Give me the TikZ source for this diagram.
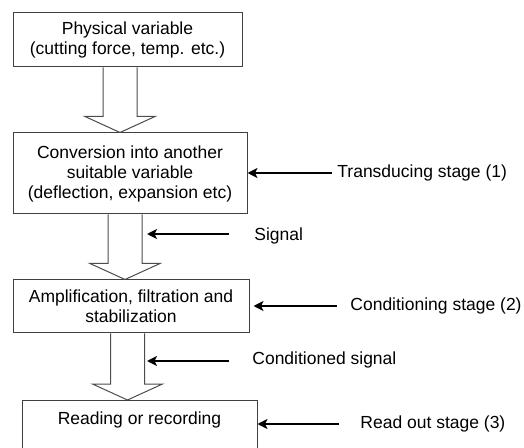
\documentclass[tikz,border=0pt]{standalone}
\usepackage{fontspec}
\setmainfont{Liberation Sans}
\usepackage{tikz}
\usetikzlibrary{arrows.meta,positioning,calc}

% open block arrow between two stages
\newcommand{\hollowarrow}[3]{% from, to, x offset
  \draw[hollow] let \p1=([xshift=#3]#1.south), \p2=(#2.north) in
    (\x1-8.5pt,\y1) -- (\x1-8.5pt,\y2+8pt) -- (\x1-17.5pt,\y2+8pt) -- (\x1,\y2)
    -- (\x1+17.5pt,\y2+8pt) -- (\x1+8.5pt,\y2+8pt) -- (\x1+8.5pt,\y1);}

\begin{document}
\begin{tikzpicture}[
  x=0.5pt, y=-0.5pt,
  font=\fontsize{8.75}{10}\selectfont,
  block/.style={rectangle, draw=black!75, line width=0.5pt, align=center,
                inner sep=0pt},
  hollow/.style={draw=black!70, line width=0.5pt},
  pointer/.style={-{Stealth[length=5pt,width=5pt,inset=1.2pt]}, line width=1.2pt},
  lab/.style={anchor=west, inner sep=0pt},
]
  \useasboundingbox (0,0) rectangle (524,448);
  \clip (0,0) rectangle (524,448);

  % Stages
  \node[block, minimum width=114.5pt, minimum height=27pt] (phys) at (127.5,40)
    {Physical variable\\(cutting force, temp. etc.)};
  \node[block, minimum width=117pt, minimum height=40.5pt] (conv) at (130,173.5)
    {Conversion into another\\suitable variable\\(deflection, expansion etc)};
  \node[block, minimum width=118pt, minimum height=26.5pt] (ampl) at (131,306.5)
    {Amplification, filtration and\\stabilization};
  \node[block, minimum width=117.5pt, anchor=north, text height=12pt,
        text depth=16pt] (read) at (139.5,400) {Reading or recording};

  % Block arrows
  \hollowarrow{phys}{conv}{-3.75pt}
  \hollowarrow{conv}{ampl}{-2.5pt}
  \hollowarrow{ampl}{read}{-1.75pt}

  % Side labels
  \node[lab] (trans)   at (337,173) {Transducing stage (1)};
  \node[lab] (sig)     at (254,236) {Signal};
  \node[lab] (cond)    at (350,306) {Conditioning stage (2)};
  \node[lab] (condsig) at (252,360) {Conditioned signal};
  \node[lab] (rout)    at (360,424) {Read out stage (3)};

  \coordinate (sigtip)     at (147,234);
  \coordinate (condsigtip) at (147,361);

  % Pointers
  \draw[pointer, shorten <=2.5pt] (trans.west) -- (trans.west -| conv.east);
  \draw[pointer, shorten <=12.5pt] (sig.west |- sigtip) -- (sigtip);
  \draw[pointer, shorten <=6.5pt, shorten >=2pt] (cond.west) -- (cond.west -| ampl.east);
  \draw[pointer, shorten <=11.5pt] (condsig.west |- condsigtip) -- (condsigtip);
  \draw[pointer, shorten <=10.5pt] (rout.west) -- (rout.west -| read.east);
\end{tikzpicture}
\end{document}
